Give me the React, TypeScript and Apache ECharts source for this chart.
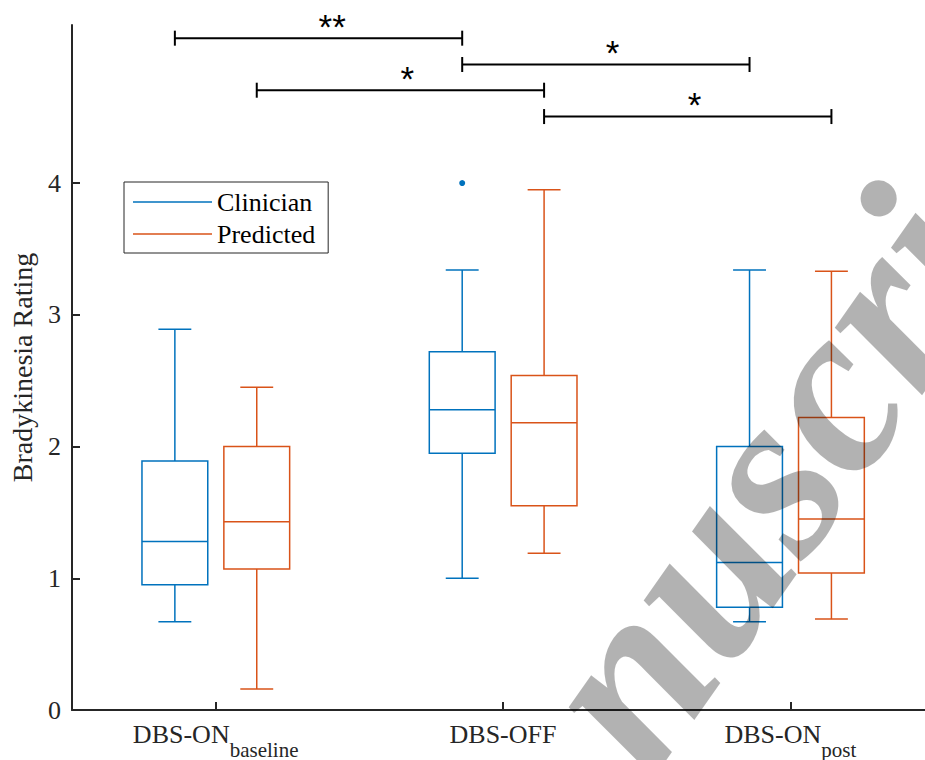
import React, { useEffect, useRef } from "react";
import * as echarts from "echarts";

// ---------------- data ----------------
const categories = ["DBS-ON baseline", "DBS-OFF", "DBS-ON post"];
const categoryMain = ["DBS-ON", "DBS-OFF", "DBS-ON"];
const categorySub = ["baseline", "", "post"];
const yTicks = [0, 1, 2, 3, 4];

// [min, Q1, median, Q3, max] per category
const clinicianBoxes = [
  [0.67, 0.95, 1.28, 1.89, 2.89],
  [1.0, 1.95, 2.28, 2.72, 3.34],
  [0.67, 0.78, 1.12, 2.0, 3.34],
];
const predictedBoxes = [
  [0.16, 1.07, 1.43, 2.0, 2.45],
  [1.19, 1.55, 2.18, 2.54, 3.95],
  [0.69, 1.04, 1.45, 2.22, 3.33],
];
// [category index, value]
const clinicianOutliers = [[1, 4.0]];

// significance brackets: [category, side(0 = Clinician, 1 = Predicted)]
const bracketFrom = [[0, 0], [0, 1], [1, 0], [1, 1]];
const bracketTo = [[1, 0], [1, 1], [2, 0], [2, 1]];
const bracketLevels = [5.1, 4.705, 4.9, 4.505];
const bracketLabels = ["**", "*", "*", "*"];

const seriesNames = ["Clinician", "Predicted"];
const watermarkText = "nuscript";

// ---------------- styling ----------------
const BLUE = "#0072BD";
const ORANGE = "#D95319";
const AXIS = "#262626";
const SERIF = "'Liberation Serif', 'Times New Roman', serif";
const SANS = "'Liberation Sans', Arial, sans-serif";
const SIDE_OFFSET = [-0.142, 0.143]; // fraction of band width
const BOX_FRAC = 0.229; // box width as fraction of band width

function boxRenderer(side: number, color: string) {
  return (params: any, api: any) => {
    const cat = api.value(0);
    const band = api.size([1, 0])[0];
    const cx = api.coord([cat, 0])[0] + SIDE_OFFSET[side] * band;
    const w = band * BOX_FRAC;
    const y = (i: number) => api.coord([cat, api.value(i)])[1];
    const yMin = y(1), yQ1 = y(2), yMed = y(3), yQ3 = y(4), yMax = y(5);
    const st = { stroke: color, lineWidth: 1.5, fill: "none" };
    return {
      type: "group",
      children: [
        { type: "line", shape: { x1: cx, y1: yMax, x2: cx, y2: yQ3 }, style: st },
        { type: "line", shape: { x1: cx, y1: yQ1, x2: cx, y2: yMin }, style: st },
        { type: "line", shape: { x1: cx - w / 4, y1: yMax, x2: cx + w / 4, y2: yMax }, style: st },
        { type: "line", shape: { x1: cx - w / 4, y1: yMin, x2: cx + w / 4, y2: yMin }, style: st },
        { type: "rect", shape: { x: cx - w / 2, y: yQ3, width: w, height: yQ1 - yQ3 }, style: st },
        { type: "line", shape: { x1: cx - w / 2, y1: yMed, x2: cx + w / 2, y2: yMed }, style: st },
      ],
    };
  };
}

function outlierRenderer(side: number, color: string) {
  return (params: any, api: any) => {
    const cat = api.value(0);
    const band = api.size([1, 0])[0];
    const p = api.coord([cat, api.value(1)]);
    return {
      type: "circle",
      shape: { cx: p[0] + SIDE_OFFSET[side] * band, cy: p[1], r: 3 },
      style: { fill: color },
    };
  };
}

function bracketRenderer(params: any, api: any) {
  const band = api.size([1, 0])[0];
  const x1 = api.coord([api.value(0), 0])[0] + SIDE_OFFSET[api.value(1)] * band;
  const x2 = api.coord([api.value(2), 0])[0] + SIDE_OFFSET[api.value(3)] * band;
  const yl = api.coord([api.value(0), api.value(4)])[1];
  const st = { stroke: "#000", lineWidth: 2 };
  return {
    type: "group",
    children: [
      { type: "line", shape: { x1, y1: yl, x2, y2: yl }, style: st },
      { type: "line", shape: { x1, y1: yl - 7.5, x2: x1, y2: yl + 7.5 }, style: st },
      { type: "line", shape: { x1: x2, y1: yl - 7.5, x2, y2: yl + 7.5 }, style: st },
      {
        type: "text",
        x: (x1 + x2) / 2,
        y: yl - 12,
        style: {
          text: bracketLabels[params.dataIndex],
          fontFamily: SANS,
          fontSize: 35,
          fill: "#000",
          align: "left",
          verticalAlign: "middle",
        },
      },
    ],
  };
}

export default function App() {
  const ref = useRef<HTMLDivElement>(null);

  useEffect(() => {
    if (!ref.current) return;
    const chart = echarts.init(ref.current, undefined, { renderer: "svg" });

    const option: any = {
      animation: false,
      backgroundColor: "#fff",
      grid: { left: 69, right: 0, top: 25, bottom: 50, containLabel: false },
      legend: {
        orient: "vertical",
        left: 124,
        top: 182,
        data: seriesNames.map((n) => ({ name: n, icon: "rect" })),
        itemWidth: 79,
        itemHeight: 1.5,
        itemGap: 2,
        padding: [5, 13, 4, 9],
        borderColor: AXIS,
        borderWidth: 1,
        backgroundColor: "#fff",
        selectedMode: false,
        textStyle: { fontFamily: SERIF, fontSize: 26, color: "#000", lineHeight: 30 },
      },
      xAxis: {
        type: "category",
        data: categories,
        boundaryGap: true,
        axisLine: { show: true, lineStyle: { color: AXIS, width: 2 } },
        axisTick: { show: true, inside: true, alignWithLabel: true, length: 8, lineStyle: { color: AXIS, width: 2 } },
        axisLabel: {
          margin: 11,
          interval: 0,
          formatter: (_v: string, i: number) =>
            categorySub[i] ? `{m|${categoryMain[i]}}{s|${categorySub[i]}}` : `{m|${categoryMain[i]}}`,
          rich: {
            m: { fontFamily: SERIF, fontSize: 26, color: AXIS, lineHeight: 30, verticalAlign: "top" },
            s: { fontFamily: SERIF, fontSize: 21, color: AXIS, lineHeight: 22, padding: [18, 0, 0, 0], verticalAlign: "top" },
          },
        },
        splitLine: { show: false },
      },
      yAxis: {
        type: "value",
        min: 0,
        max: 5.2,
        interval: 1,
        name: "Bradykinesia Rating",
        nameLocation: "middle",
        nameGap: 36,
        nameTextStyle: { fontFamily: SERIF, fontSize: 28, color: AXIS },
        axisLine: { show: true, lineStyle: { color: AXIS, width: 2 } },
        axisTick: { show: true, inside: true, length: 8, customValues: yTicks, lineStyle: { color: AXIS, width: 2 } },
        axisLabel: { margin: 11, customValues: yTicks, fontFamily: SERIF, fontSize: 26, color: AXIS },
        splitLine: { show: false },
      },
      series: [
        {
          name: seriesNames[0],
          type: "custom",
          renderItem: boxRenderer(0, BLUE),
          itemStyle: { color: BLUE },
          encode: { x: 0, y: [1, 2, 3, 4, 5] },
          data: clinicianBoxes.map((d, i) => [i, ...d]),
          z: 2,
        },
        {
          name: seriesNames[1],
          type: "custom",
          renderItem: boxRenderer(1, ORANGE),
          itemStyle: { color: ORANGE },
          encode: { x: 0, y: [1, 2, 3, 4, 5] },
          data: predictedBoxes.map((d, i) => [i, ...d]),
          z: 2,
        },
        {
          name: "Clinician outliers",
          type: "custom",
          renderItem: outlierRenderer(0, BLUE),
          itemStyle: { color: BLUE },
          encode: { x: 0, y: 1 },
          data: clinicianOutliers,
          z: 2,
        },
        {
          name: "significance",
          type: "custom",
          renderItem: bracketRenderer,
          encode: { x: 0, y: 4 },
          data: bracketFrom.map((f, i) => [f[0], f[1], bracketTo[i][0], bracketTo[i][1], bracketLevels[i]]),
          clip: false,
          z: 3,
        },
      ],
      graphic: [
        {
          type: "text",
          x: 585,
          y: 735,
          rotation: 0.96,
          z: 100,
          silent: true,
          style: {
            text: watermarkText,
            fontFamily: SERIF,
            fontStyle: "italic",
            fontWeight: "bold",
            fontSize: 240,
            fill: "rgba(0,0,0,0.3)",
            align: "left",
            verticalAlign: "middle",
          },
        },
      ],
    };

    chart.setOption(option);
    return () => chart.dispose();
  }, []);

  return (
    <div
      style={{
        position: "absolute",
        left: 0,
        top: 0,
        width: 925,
        height: 760,
        overflow: "hidden",
        background: "#fff",
      }}
    >
      <div ref={ref} style={{ width: 934, height: 760 }} />
    </div>
  );
}
